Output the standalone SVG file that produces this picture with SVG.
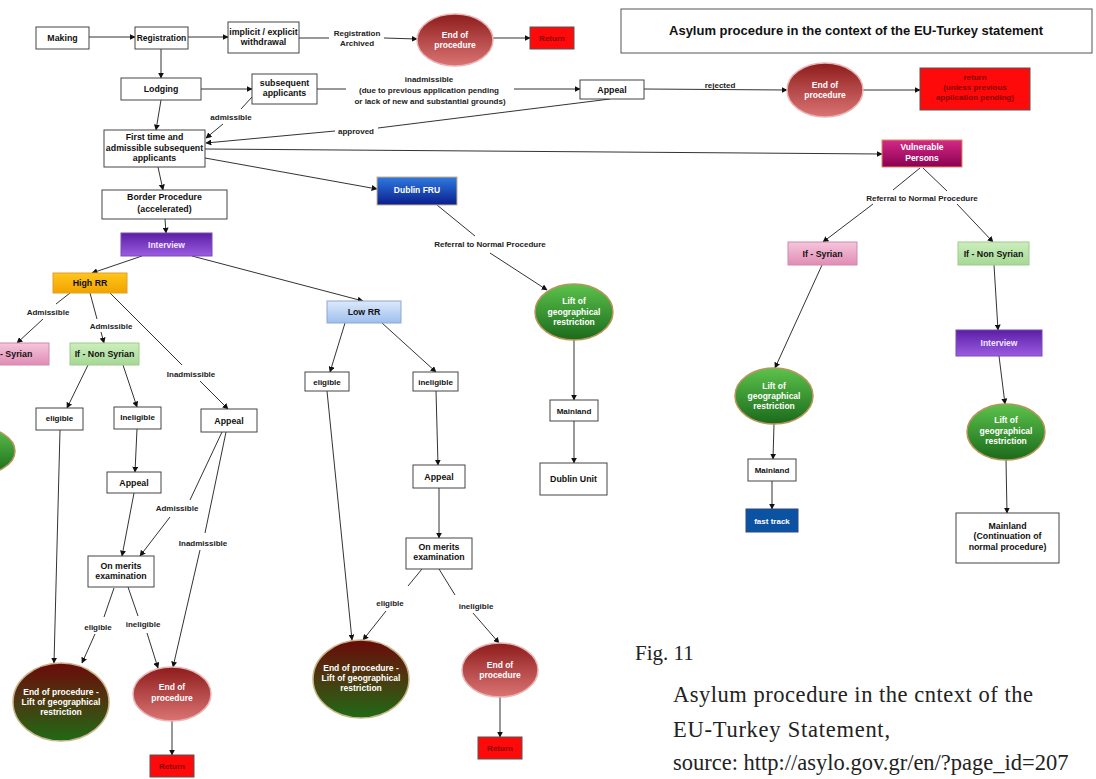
<svg xmlns="http://www.w3.org/2000/svg" width="1096" height="779" viewBox="0 0 1096 779">
<defs>
<style>
text{font-family:"Liberation Sans",Arial,sans-serif;font-weight:bold;text-anchor:middle}
.n{font-size:8.8px;fill:#111}
.w{font-size:8.5px;fill:#fff}
.l{font-size:8px;fill:#222}
.box{fill:#fff;stroke:#444;stroke-width:1}
.c path{fill:none;stroke:#333;stroke-width:1}
.a{marker-end:url(#ah)}
.cap{font-family:"Liberation Serif","Times New Roman",serif;font-weight:normal;font-size:22.5px;fill:#222;text-anchor:start}
</style>
<marker id="ah" viewBox="0 0 10 10" refX="9" refY="5" markerWidth="6" markerHeight="6" orient="auto" markerUnits="userSpaceOnUse"><path d="M0,0 L10,5 L0,10 z" fill="#111"/></marker>
<linearGradient id="gRed" x1="0" y1="0" x2="0" y2="1"><stop offset="0" stop-color="#8e1c1c"/><stop offset="1" stop-color="#db7474"/></linearGradient>
<linearGradient id="gGreen" x1="0" y1="0" x2="0" y2="1"><stop offset="0" stop-color="#5cc24c"/><stop offset="1" stop-color="#1b6a1b"/></linearGradient>
<linearGradient id="gRG" x1="0" y1="0" x2="0" y2="1"><stop offset="0" stop-color="#6a0a0a"/><stop offset="0.5" stop-color="#4a3a10"/><stop offset="1" stop-color="#1f6a16"/></linearGradient>
<linearGradient id="gPurple" x1="0" y1="0" x2="0" y2="1"><stop offset="0" stop-color="#5a1ea4"/><stop offset="1" stop-color="#9c5ce2"/></linearGradient>
<linearGradient id="gMag" x1="0" y1="0" x2="0" y2="1"><stop offset="0" stop-color="#d42a86"/><stop offset="1" stop-color="#8a0052"/></linearGradient>
<linearGradient id="gBlue" x1="0" y1="0" x2="0" y2="1"><stop offset="0" stop-color="#2f7ae0"/><stop offset="1" stop-color="#0a1e8c"/></linearGradient>
<linearGradient id="gGold" x1="0" y1="0" x2="0" y2="1"><stop offset="0" stop-color="#ffc61a"/><stop offset="1" stop-color="#f2a300"/></linearGradient>
<linearGradient id="gLBlue" x1="0" y1="0" x2="0" y2="1"><stop offset="0" stop-color="#dde9fb"/><stop offset="1" stop-color="#9dbfee"/></linearGradient>
<linearGradient id="gPink" x1="0" y1="0" x2="0" y2="1"><stop offset="0" stop-color="#f6c6dc"/><stop offset="1" stop-color="#e08cb4"/></linearGradient>
<linearGradient id="gLGreen" x1="0" y1="0" x2="0" y2="1"><stop offset="0" stop-color="#cdeebe"/><stop offset="1" stop-color="#a6d895"/></linearGradient>
</defs>
<rect x="0" y="0" width="1096" height="779" fill="#fff"/>

<g id="connectors" class="c">
<path class="a" d="M89,37 L135,37"/>
<path class="a" d="M188,37 L228,37"/>
<path d="M299,38 L329,38"/>
<path class="a" d="M384,38 L417,39"/>
<path class="a" d="M493,38 L530,38"/>
<path class="a" d="M161,49 L161,78"/>
<path class="a" d="M201,89 L252,89"/>
<path d="M317,89 L346,89"/>
<path class="a" d="M514,89 L580,89"/>
<path class="a" d="M644,89 L787,90"/>
<path class="a" d="M863,90 L920,90"/>
<path d="M610,99 L378,128"/>
<path class="a" d="M335,131 L206,143"/>
<path class="a" d="M161,100 L156,130"/>
<path d="M252,97 L241,109"/>
<path class="a" d="M223,124 L206,138"/>
<path class="a" d="M205,149 L882,154"/>
<path class="a" d="M158,167 L163,190"/>
<path class="a" d="M205,158 L377,189"/>
<path class="a" d="M165,219 L166,233"/>
<path class="a" d="M142,256 L92,273"/>
<path class="a" d="M192,256 L363,301"/>
<path d="M70,293 L56,304"/>
<path class="a" d="M43,319 L17,343"/>
<path d="M90,293 L97,319"/>
<path class="a" d="M101,332 L104,343"/>
<path d="M110,293 L182,365"/>
<path class="a" d="M200,381 L228,409"/>
<path class="a" d="M88,365 L67,408"/>
<path class="a" d="M123,365 L137,407"/>
<path class="a" d="M60,430 L54,663"/>
<path class="a" d="M137,429 L135,472"/>
<path class="a" d="M134,493 L122,556"/>
<path d="M222,432 L190,500"/>
<path class="a" d="M170,517 L140,556"/>
<path d="M226,432 L205,533"/>
<path class="a" d="M200,550 L173,667"/>
<path d="M114,588 L104,617"/>
<path class="a" d="M95,634 L82,663"/>
<path d="M128,587 L138,616"/>
<path class="a" d="M147,633 L158,668"/>
<path class="a" d="M172,721 L172,755"/>
<path class="a" d="M345,323 L330,372"/>
<path class="a" d="M382,323 L436,372"/>
<path class="a" d="M327,391 L352,640"/>
<path class="a" d="M436,391 L438,465"/>
<path class="a" d="M439,488 L439,538"/>
<path d="M422,569 L408,586"/>
<path class="a" d="M386,611 L363,640"/>
<path d="M439,569 L455,595"/>
<path class="a" d="M473,613 L499,643"/>
<path class="a" d="M500,697 L500,737"/>
<path d="M437,205 L475,236"/>
<path class="a" d="M490,253 L547,290"/>
<path class="a" d="M574,340 L574,400"/>
<path class="a" d="M574,421 L574,463"/>
<path d="M920,168 L893,190"/>
<path class="a" d="M873,204 L823,242"/>
<path d="M923,168 L947,191"/>
<path class="a" d="M957,204 L993,242"/>
<path class="a" d="M822,265 L775,368"/>
<path class="a" d="M774,424 L773,459"/>
<path class="a" d="M772,481 L772,509"/>
<path class="a" d="M994,265 L998,330"/>
<path class="a" d="M999,356 L1005,404"/>
<path class="a" d="M1006,460 L1007,513"/>
</g>

<g id="edge-labels">
<text class="l" x="357" y="36">Registration</text>
<text class="l" x="357" y="46">Archived</text>
<text class="l" x="429" y="82">inadmissible</text>
<text class="l" x="429" y="93">(due to previous application pending</text>
<text class="l" x="430" y="104">or lack of new and substantial grounds)</text>
<text class="l" x="720" y="88">rejected</text>
<text class="l" x="356" y="134">approved</text>
<text class="l" x="231" y="120">admissible</text>
<text class="l" x="48" y="315">Admissible</text>
<text class="l" x="111" y="329">Admissible</text>
<text class="l" x="191" y="377">Inadmissible</text>
<text class="l" x="177" y="511">Admissible</text>
<text class="l" x="203" y="546">Inadmissible</text>
<text class="l" x="98" y="630">eligible</text>
<text class="l" x="143" y="627">ineligible</text>
<text class="l" x="390" y="606">eligible</text>
<text class="l" x="476" y="609">ineligible</text>
<text class="l" x="490" y="247">Referral to Normal Procedure</text>
<text class="l" x="922" y="201">Referral to Normal Procedure</text>
</g>

<g id="title"><rect x="621" y="9" width="471" height="44" fill="#fff" stroke="#555"/><text x="856" y="35" style="font-size:13px;fill:#111">Asylum procedure in the context of the EU-Turkey statement</text></g>

<g id="making"><rect class="box" x="36" y="27" width="53" height="22"/><text class="n" x="62.5" y="41">Making</text></g>
<g id="registration"><rect class="box" x="135" y="27" width="53" height="22"/><text class="n" x="161.5" y="41" style="font-size:8.5px">Registration</text></g>
<g id="withdrawal"><rect class="box" x="228" y="22" width="71" height="31"/><text class="n" x="263.5" y="35">implicit / explicit</text><text class="n" x="263.5" y="45">withdrawal</text></g>
<g id="end1"><ellipse cx="455" cy="40" rx="38" ry="26" fill="url(#gRed)" stroke="#e8b4b4" stroke-width="1.5"/><text class="w" x="455" y="38">End of</text><text class="w" x="455" y="48">procedure</text></g>
<g id="return1"><rect x="530" y="27" width="44" height="22" fill="#ff0a0a" stroke="#555"/><text class="n" x="552" y="41" style="fill:#8b0000;font-size:8px">Return</text></g>
<g id="lodging"><rect class="box" x="121" y="78" width="80" height="22"/><text class="n" x="161" y="92">Lodging</text></g>
<g id="subsequent"><rect class="box" x="252" y="74" width="65" height="30"/><text class="n" x="284.5" y="86">subsequent</text><text class="n" x="284.5" y="96">applicants</text></g>
<g id="appeal1"><rect class="box" x="580" y="80" width="64" height="19"/><text class="n" x="612" y="92.5">Appeal</text></g>
<g id="end2"><ellipse cx="825" cy="90" rx="38" ry="27" fill="url(#gRed)" stroke="#e8b4b4" stroke-width="1.5"/><text class="w" x="825" y="88">End of</text><text class="w" x="825" y="98">procedure</text></g>
<g id="return2"><rect x="920" y="68" width="110" height="42" fill="#ff0a0a" stroke="#555"/><text class="n" x="975" y="80" style="fill:#8b0000;font-size:8px">return</text><text class="n" x="975" y="90" style="fill:#8b0000;font-size:8px">(unless previous</text><text class="n" x="975" y="100" style="fill:#8b0000;font-size:8px">application pending)</text></g>
<g id="firsttime"><rect class="box" x="104" y="130" width="101" height="37"/><text class="n" x="154.5" y="140">First time and</text><text class="n" x="154.5" y="151">admissible subsequent</text><text class="n" x="154.5" y="161">applicants</text></g>
<g id="vulnerable"><rect x="882" y="140" width="80" height="27" fill="url(#gMag)" stroke="#e08a5a"/><text class="w" x="922" y="150">Vulnerable</text><text class="w" x="922" y="161">Persons</text></g>
<g id="border"><rect class="box" x="102" y="190" width="125" height="29"/><text class="n" x="164.5" y="200">Border Procedure</text><text class="n" x="164.5" y="212">(accelerated)</text></g>
<g id="dublinfru"><rect x="377" y="177" width="80" height="28" fill="url(#gBlue)" stroke="#c9b48a"/><text class="w" x="417" y="193">Dublin FRU</text></g>
<g id="interview1"><rect x="121" y="233" width="91" height="23" fill="url(#gPurple)" stroke="#7a4ab0"/><text class="w" x="166.5" y="247.5" style="fill:#f0e6ff">Interview</text></g>
<g id="highrr"><rect x="53" y="273" width="74" height="20" fill="url(#gGold)" stroke="#e0a030"/><text class="n" x="90" y="286">High RR</text></g>
<g id="lowrr"><rect x="327" y="301" width="74" height="22" fill="url(#gLBlue)" stroke="#8fa8cc"/><text class="n" x="364" y="315">Low RR</text></g>
<g id="lift-dublin"><ellipse cx="574" cy="312" rx="39" ry="28" fill="url(#gGreen)" stroke="#b8955a" stroke-width="1.5"/><text class="w" x="574" y="304">Lift of</text><text class="w" x="574" y="315">geographical</text><text class="w" x="574" y="325">restriction</text></g>
<g id="syrian-left"><rect x="-25" y="343" width="74" height="22" fill="url(#gPink)" stroke="#d08aac"/><text class="n" x="0" y="357" style="text-anchor:start">- Syrian</text></g>
<g id="nonsyrian-left"><rect x="70" y="343" width="69" height="22" fill="url(#gLGreen)" stroke="#9ccc8a"/><text class="n" x="104.5" y="357">If - Non Syrian</text></g>
<g id="lift-left-partial"><ellipse cx="-24" cy="451" rx="39" ry="24" fill="url(#gGreen)" stroke="#b8955a" stroke-width="1.5"/></g>
<g id="eligible-left"><rect class="box" x="36" y="408" width="47" height="22"/><text class="n" x="59.5" y="421" style="font-size:8px">eligible</text></g>
<g id="ineligible-left"><rect class="box" x="114" y="407" width="47" height="22"/><text class="n" x="137.5" y="420" style="font-size:8px">Ineligible</text></g>
<g id="appeal-left"><rect class="box" x="201" y="409" width="56" height="23"/><text class="n" x="229" y="423.5">Appeal</text></g>
<g id="appeal-left2"><rect class="box" x="107" y="472" width="54" height="21"/><text class="n" x="134" y="485.5">Appeal</text></g>
<g id="merits-left"><rect class="box" x="88" y="556" width="66" height="31"/><text class="n" x="121" y="569">On merits</text><text class="n" x="121" y="579">examination</text></g>
<g id="endlift-left"><ellipse cx="61" cy="702" rx="48" ry="39" fill="url(#gRG)" stroke="#c9b48a" stroke-width="1.5"/><text class="w" x="61" y="695">End of procedure -</text><text class="w" x="61" y="705">Lift of geographical</text><text class="w" x="61" y="715">restriction</text></g>
<g id="end-left"><ellipse cx="172" cy="694" rx="39" ry="27" fill="url(#gRed)" stroke="#e8b4b4" stroke-width="1.5"/><text class="w" x="172" y="690">End of</text><text class="w" x="172" y="701">procedure</text></g>
<g id="return-left"><rect x="150" y="755" width="44" height="22" fill="#ff0a0a" stroke="#555"/><text class="n" x="172" y="769" style="fill:#8b0000;font-size:8px">Return</text></g>
<g id="eligible-mid"><rect class="box" x="305" y="372" width="44" height="19"/><text class="n" x="327" y="384.5" style="font-size:8px">eligible</text></g>
<g id="ineligible-mid"><rect class="box" x="413" y="372" width="45" height="19"/><text class="n" x="435.5" y="384.5" style="font-size:8px">ineligible</text></g>
<g id="mainland-dublin"><rect class="box" x="550" y="400" width="48" height="21"/><text class="n" x="574" y="413.5" style="font-size:8px">Mainland</text></g>
<g id="dublinunit"><rect class="box" x="540" y="463" width="67" height="32"/><text class="n" x="573.5" y="482">Dublin Unit</text></g>
<g id="appeal-mid"><rect class="box" x="413" y="465" width="52" height="23"/><text class="n" x="439" y="479.5">Appeal</text></g>
<g id="merits-mid"><rect class="box" x="406" y="538" width="66" height="31"/><text class="n" x="439" y="550">On merits</text><text class="n" x="439" y="560">examination</text></g>
<g id="endlift-mid"><ellipse cx="361" cy="679" rx="48" ry="39" fill="url(#gRG)" stroke="#c9b48a" stroke-width="1.5"/><text class="w" x="361" y="671">End of procedure -</text><text class="w" x="361" y="681">Lift of geographical</text><text class="w" x="361" y="691">restriction</text></g>
<g id="end-mid"><ellipse cx="500" cy="670" rx="38" ry="27" fill="url(#gRed)" stroke="#e8b4b4" stroke-width="1.5"/><text class="w" x="500" y="668">End of</text><text class="w" x="500" y="678">procedure</text></g>
<g id="return-mid"><rect x="478" y="737" width="44" height="22" fill="#ff0a0a" stroke="#555"/><text class="n" x="500" y="751" style="fill:#8b0000;font-size:8px">Return</text></g>
<g id="ifsyrian-right"><rect x="788" y="242" width="69" height="23" fill="url(#gPink)" stroke="#d08aac"/><text class="n" x="822.5" y="256.5">If - Syrian</text></g>
<g id="ifnonsyrian-right"><rect x="958" y="242" width="71" height="23" fill="url(#gLGreen)" stroke="#9ccc8a"/><text class="n" x="993.5" y="256.5">If - Non Syrian</text></g>
<g id="interview-right"><rect x="956" y="330" width="86" height="26" fill="url(#gPurple)" stroke="#7a4ab0"/><text class="w" x="999" y="346" style="fill:#f0e6ff">Interview</text></g>
<g id="lift-syrian"><ellipse cx="774" cy="396" rx="39" ry="28" fill="url(#gGreen)" stroke="#b8955a" stroke-width="1.5"/><text class="w" x="774" y="389">Lift of</text><text class="w" x="774" y="399">geographical</text><text class="w" x="774" y="409">restriction</text></g>
<g id="mainland-syrian"><rect class="box" x="748" y="459" width="48" height="22"/><text class="n" x="772" y="473" style="font-size:8px">Mainland</text></g>
<g id="fasttrack"><rect x="746" y="509" width="52" height="23" fill="#0b52a2" stroke="#2a4a7a"/><text class="w" x="772" y="523.5" style="font-size:8px">fast track</text></g>
<g id="lift-nonsyrian"><ellipse cx="1006" cy="432" rx="39" ry="28" fill="url(#gGreen)" stroke="#b8955a" stroke-width="1.5"/><text class="w" x="1006" y="423">Lift of</text><text class="w" x="1006" y="434">geographical</text><text class="w" x="1006" y="444">restriction</text></g>
<g id="mainland-cont"><rect class="box" x="956" y="513" width="103" height="50"/><text class="n" x="1007.5" y="529">Mainland</text><text class="n" x="1007.5" y="539">(Continuation of</text><text class="n" x="1007.5" y="550">normal procedure)</text></g>

<g id="caption">
<text class="cap" x="635" y="660" style="font-size:21px">Fig. 11</text>
<text class="cap" x="673" y="702" textLength="360" lengthAdjust="spacing">Asylum procedure in the cntext of the</text>
<text class="cap" x="673" y="737" textLength="217" lengthAdjust="spacing">EU-Turkey Statement,</text>
<text class="cap" x="673" y="770">source: http://asylo.gov.gr/en/?page_id=207</text>
</g>
</svg>
